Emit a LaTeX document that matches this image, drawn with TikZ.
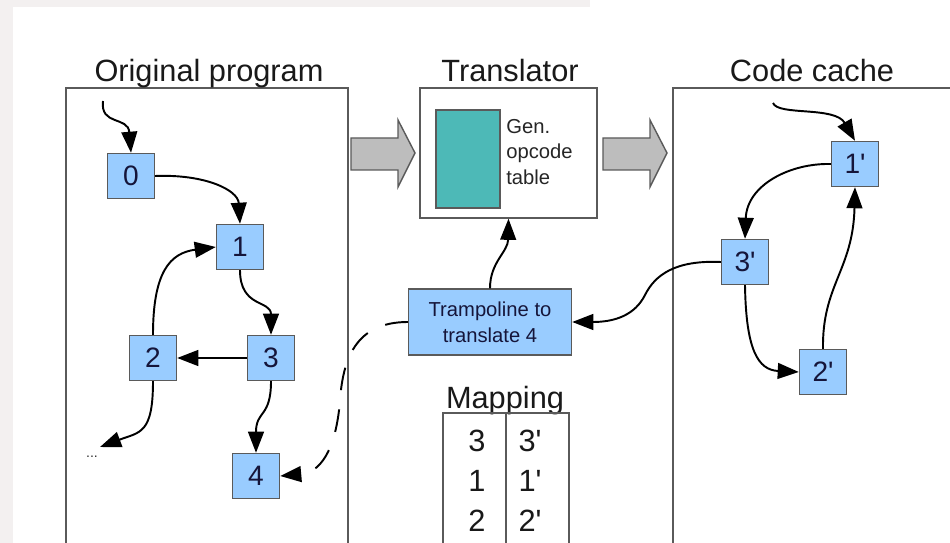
\documentclass[tikz,border=0pt]{standalone}
\usepackage{fontspec}
\setmainfont{Liberation Sans}[Ligatures=TeXOff]
\usetikzlibrary{arrows.meta}
\definecolor{nodeblue}{HTML}{99CCFF}
\definecolor{tealfill}{HTML}{4DB9B7}
\definecolor{framegray}{HTML}{5A5A5A}
\definecolor{arrowgray}{HTML}{BDBDBD}
\definecolor{inkblue}{HTML}{15153A}
\definecolor{paper}{HTML}{F3F0F0}

\begin{document}
\begin{tikzpicture}[x=0.02cm,y=-0.02cm,
  frame/.style={draw=framegray, line width=0.85pt},
  blk/.style={draw=framegray, line width=0.8pt, fill=nodeblue,
    minimum width=0.94cm, minimum height=0.9cm, inner sep=0pt,
    text=inkblue, font=\fontsize{16}{18}\selectfont},
  title/.style={anchor=base, font=\fontsize{17.5}{20}\selectfont, text=black!90},
  small/.style={font=\fontsize{11.5}{14.6}\selectfont},
  flow/.style={line width=1.1pt, -{Triangle[length=12pt,width=9pt]}},
  fat/.style={draw=framegray, line width=0.8pt, fill=arrowgray},
  cell/.style={anchor=base, font=\fontsize{17.5}{20}\selectfont, text=black!90}]

% page and its faint outer margin
\useasboundingbox (0,0) rectangle (950,543);
\fill[white] (0,0) rectangle (950,543);
\fill[paper] (0,0) rectangle (590,7);
\fill[paper] (0,0) rectangle (13,543);

% containers
\draw[frame] (66,543) -- (66,88) -- (348,88) -- (348,543);
\draw[frame] (673,543) -- (673,88) -- (950,88);
\node[frame, fill=white, minimum width=3.54cm, minimum height=2.6cm, inner sep=0pt]
  (trans) at (508.5,153) {};

\node[title] (tOrig) at (209,82) {Original program};
\node[title] (tTrans) at (510,82) {Translator};
\node[title] (tCache) at (812,82) {Code cache};

% inside the translator
\node[draw=framegray, line width=0.8pt, fill=tealfill, minimum width=1.28cm,
  minimum height=1.96cm, inner sep=0pt] (table) at (468,159) {};
\node[small, anchor=west, align=left, text=black!85, inner sep=0pt]
  (gen) at (506,152) {Gen.\\opcode\\table};

% big hollow arrows
\draw[fat] (351,138) -- (398,138) -- (398,120) -- (415,153) -- (398,187)
  -- (398,170) -- (351,170) -- cycle;
\draw[fat] (603,138) -- (650,138) -- (650,120) -- (667,153) -- (650,187)
  -- (650,170) -- (603,170) -- cycle;

% original program blocks
\node[blk] (n0) at (131,176) {0};
\node[blk] (n1) at (240,247) {1};
\node[blk] (n2) at (153,358) {2};
\node[blk] (n3) at (271,358) {3};
\node[blk] (n4) at (256,476) {4};
\node[font=\fontsize{8}{10}\selectfont, text=black!80] (dots) at (92,457) {...};
\coordinate (s0) at (103,101);
\coordinate (d) at (100,447);

% code cache blocks
\node[blk] (n1p) at (855,164) {1'};
\node[blk] (n3p) at (745,262) {3'};
\node[blk] (n2p) at (823,372) {2'};
\coordinate (s1p) at (773,103);

% trampoline
\node[draw=framegray, line width=0.8pt, fill=nodeblue, minimum width=3.26cm,
  minimum height=1.32cm, inner sep=0pt, align=center, small, text=inkblue]
  (tramp) at (490,322) {Trampoline to\\translate 4};

% mapping table
\node[title] (tMap) at (505,409) {Mapping};
\draw[frame] (443,543) -- (443,413) -- (569,413) -- (569,543);
\draw[frame] (506,413) -- (506,543);
\node[cell] (m1a) at (477,452) {3};
\node[cell] (m1b) at (530,452) {3'};
\node[cell] (m2a) at (477,492) {1};
\node[cell] (m2b) at (530,492) {1'};
\node[cell] (m3a) at (477,532) {2};
\node[cell] (m3b) at (530,532) {2'};

% control flow in the original program
\draw[flow] (s0) .. controls (100,126) and (128,116) .. (n0.north);
\draw[flow] (n0.east) .. controls (205,174) and (238,190) .. (n1.north);
\draw[flow] (n2.north) .. controls (153,272) and (170,253) .. (n1.west);
\draw[flow] (n1.south) .. controls (240,308) and (271,300) .. (n3.north);
\draw[flow] (n3.west) -- (n2.east);
\draw[flow] (n2.south) .. controls (153,434) and (140,432) .. (d);
\draw[flow] (n3.south) .. controls (271,418) and (256,410) .. (n4.north);

% control flow in the code cache
\draw[flow] (s1p) .. controls (778,116) and (835,106) .. (n1p.north);
\draw[flow] (n1p.west) .. controls (790,163) and (747,185) .. (n3p.north);
\draw[flow] (n3p.south) .. controls (746,350) and (758,370) .. (n2p.west);
\draw[flow] (n2p.north) .. controls (822,285) and (853,270) .. (n1p.south);

% exits through the trampoline
\draw[flow] (n3p.west) .. controls (675,260) and (655,275) .. (645,295)
  .. controls (635,315) and (615,322) .. (tramp.east);
\draw[flow] (tramp.north) .. controls (490,262) and (508,252) .. (trans.south);
\draw[flow, dash pattern=on 13pt off 11pt] (tramp.west) .. controls (355,322) and (343,360) .. (340,400)
  .. controls (337,440) and (325,472) .. (n4.east);
\end{tikzpicture}
\end{document}
